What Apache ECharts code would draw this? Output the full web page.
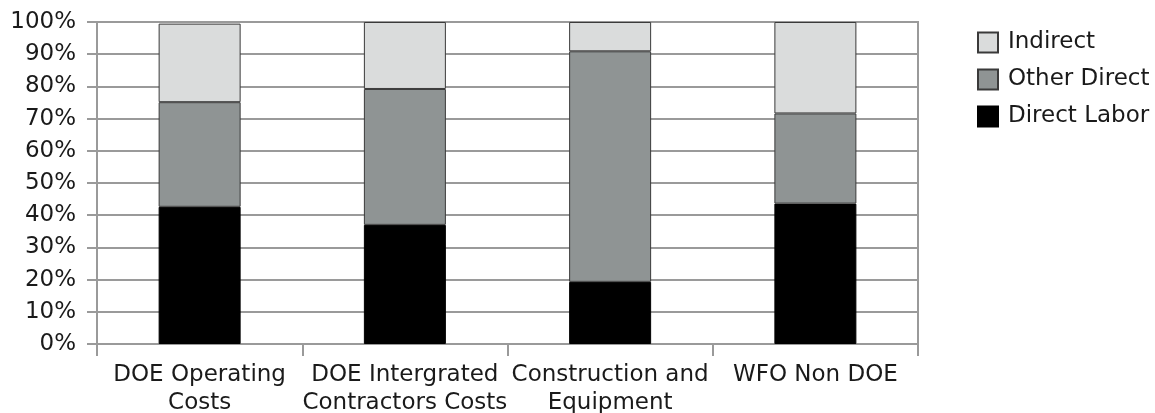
<!DOCTYPE html>
<html>
<head>
<meta charset="utf-8">
<script src="https://cdn.jsdelivr.net/npm/echarts@6/dist/echarts.min.js"></script>
<style>
  html, body { margin: 0; padding: 0; background: #fff; }
  #chart { width: 1155px; height: 413px; }
</style>
</head>
<body>
<div id="chart"></div>
<script>
// Cost categories along the x axis
const categories = [
  'DOE Operating\nCosts',
  'DOE Intergrated\nContractors Costs',
  'Construction and\nEquipment',
  'WFO Non DOE'
];

// Share of each cost type (percent of the category total)
const directLabor = [42.6, 37.0, 19.3, 43.6];
const otherDirect = [32.5, 42.2, 71.6, 28.0];
const indirect = [24.4, 20.8, 9.1, 28.4];

// Y axis tick values
const yTicks = { min: 0, max: 100, interval: 10 };

const FONT = 'DejaVu Sans, Verdana, sans-serif';
const GRID_GRAY = '#9a9a9a';

const chart = echarts.init(document.getElementById('chart'), null, { renderer: 'canvas' });

function barSeries(name, data, color, border) {
  return {
    name: name,
    type: 'bar',
    stack: 'total',
    data: data,
    barWidth: 82,
    itemStyle: { color: color, borderColor: border, borderWidth: 1 },
    emphasis: { disabled: true }
  };
}

chart.setOption({
  animation: false,
  backgroundColor: '#fff',
  textStyle: { fontFamily: FONT },
  grid: {
    left: 97, right: 237, top: 22, bottom: 69,
    outerBoundsMode: 'none',
    containLabel: false,
    show: true, borderColor: GRID_GRAY, borderWidth: 2, backgroundColor: 'transparent'
  },
  legend: {
    orient: 'vertical',
    left: 972,
    top: 26,
    padding: 5,
    itemWidth: 20,
    itemHeight: 20,
    itemGap: 14,
    icon: 'rect',
    textStyle: { fontFamily: FONT, fontSize: 23, color: '#1a1a1a', padding: [0, 0, 0, 5] },
    data: ['Indirect', 'Other Direct', 'Direct Labor']
  },
  xAxis: {
    type: 'category',
    data: categories,
    axisLine: { lineStyle: { color: GRID_GRAY, width: 2 } },
    axisTick: { show: true, length: 12, alignWithLabel: false, lineStyle: { color: GRID_GRAY, width: 2 } },
    axisLabel: {
      fontFamily: FONT, fontSize: 23, color: '#1a1a1a',
      lineHeight: 28, margin: 17, interval: 0
    }
  },
  yAxis: {
    type: 'value',
    min: yTicks.min, max: yTicks.max, interval: yTicks.interval,
    axisLine: { show: true, lineStyle: { color: GRID_GRAY, width: 2 } },
    axisTick: { show: true, length: 10, lineStyle: { color: GRID_GRAY, width: 2 } },
    splitLine: { show: true, lineStyle: { color: GRID_GRAY, width: 2 } },
    axisLabel: {
      fontFamily: FONT, fontSize: 23, color: '#1a1a1a', margin: 21,
      formatter: '{value}%'
    }
  },
  series: [
    barSeries('Direct Labor', directLabor, '#000000', '#000000'),
    barSeries('Other Direct', otherDirect, '#8f9494', '#3a3a3a'),
    barSeries('Indirect', indirect, '#dadcdc', '#3a3a3a')
  ]
});
</script>
</body>
</html>
